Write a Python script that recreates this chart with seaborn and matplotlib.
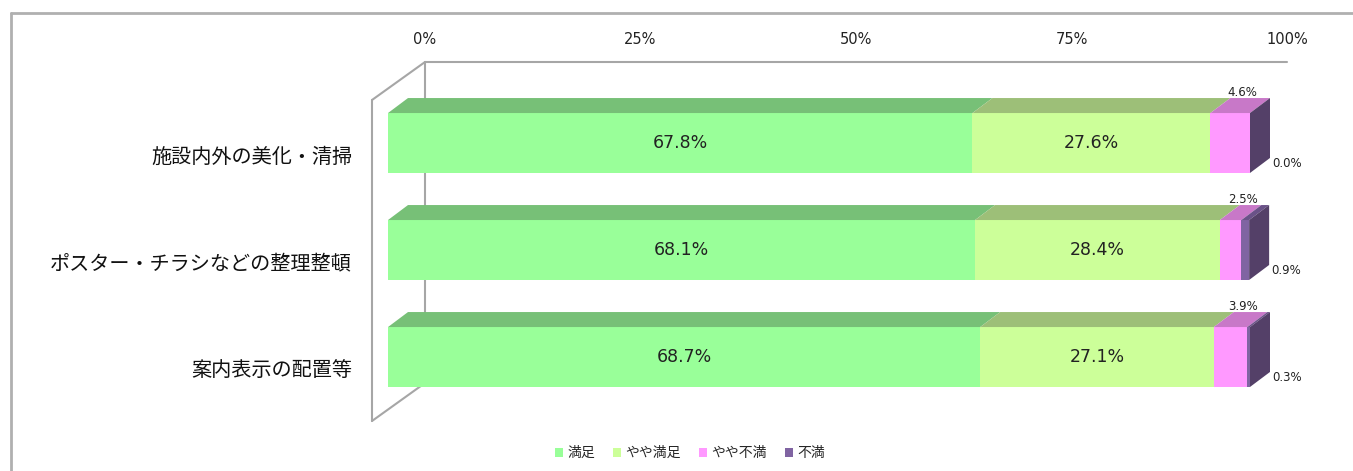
import matplotlib
matplotlib.use("Agg")
import matplotlib.pyplot as plt
import seaborn as sns
import numpy as np
import pandas as pd
from matplotlib.patches import Polygon, Patch

# data
categories = ["施設内外の美化・清掃", "ポスター・チラシなどの整理整頓", "案内表示の配置等"]
series_names = ["満足", "やや満足", "やや不満", "不満"]
satisfied = [67.8, 68.1, 68.7]
somewhat_satisfied = [27.6, 28.4, 27.1]
somewhat_dissatisfied = [4.6, 2.5, 3.9]
dissatisfied = [0.0, 0.9, 0.3]
tick_values = [0, 25, 50, 75, 100]

front_colors = ["#99ff99", "#ccff99", "#ff99ff", "#8064a2"]
top_colors = ["#77c077", "#9dbf78", "#c878c8", "#6a5288"]
side_color = "#544068"
wall_color = "#a6a6a6"
jp_font = ["Noto Sans CJK JP", "DejaVu Sans"]

sns.set_theme(style="white")
plt.rcParams["font.family"] = jp_font

values = np.array([satisfied, somewhat_satisfied, somewhat_dissatisfied, dissatisfied])
cum = np.cumsum(values, axis=0)
df = pd.DataFrame({"category": categories})
for i, name in enumerate(series_names):
    df[name] = cum[i]

W, H = 1353, 471
fig = plt.figure(figsize=(W / 100, H / 100), dpi=100)
ax = fig.add_axes([0, 0, 1, 1])

# pixel mapping: 0% front at px 388, 862 px per 100%; bar pitch 107 px, first bar centre py 143
PX0, PXS, PY0, PYS = 388, 8.62, 143, 107
xlim = (-PX0 / PXS, (W - PX0) / PXS)
ylim = ((H - PY0) / PYS, -PY0 / PYS)

bar_h = 0.56
dx, dy = 20 / PXS, 15 / PYS          # bar depth
wdx, wdy = 53 / PXS, 38 / PYS        # wall depth
wall_x = -16 / PXS                   # front edge of floor / wall

# back wall and floor lines
top_y = (62 - PY0) / PYS
floor_y = (383 - PY0) / PYS
bx = wall_x + wdx
ax.plot([bx, bx + 100], [top_y, top_y], color=wall_color, lw=1.5, zorder=1)
ax.plot([bx, bx], [top_y, floor_y], color=wall_color, lw=1.5, zorder=1)
ax.plot([wall_x, bx], [top_y + wdy, top_y], color=wall_color, lw=1.5, zorder=1)
ax.plot([wall_x, wall_x], [top_y + wdy, floor_y + wdy], color=wall_color, lw=1.5, zorder=1)
ax.plot([wall_x, bx], [floor_y + wdy, floor_y], color=wall_color, lw=1.5, zorder=1)

# front faces: stacked by drawing cumulative totals from the largest down
for i in range(len(series_names) - 1, -1, -1):
    sns.barplot(data=df, x=series_names[i], y="category", color=front_colors[i],
                orient="h", width=bar_h, saturation=1, ax=ax, zorder=2,
                edgecolor="none", linewidth=0)

# top and side faces
for j in range(len(categories)):
    ytop = j - bar_h / 2
    ybot = j + bar_h / 2
    left = 0.0
    for i in range(len(series_names)):
        right = cum[i, j]
        ax.add_patch(Polygon([(left, ytop), (right, ytop), (right + dx, ytop - dy), (left + dx, ytop - dy)],
                             closed=True, facecolor=top_colors[i], edgecolor="none", zorder=2))
        left = right
    end = cum[-1, j]
    ax.add_patch(Polygon([(end, ytop), (end + dx, ytop - dy), (end + dx, ybot - dy), (end, ybot)],
                         closed=True, facecolor=side_color, edgecolor="none", zorder=2))

    # value labels
    for i in range(2):
        mid = cum[i, j] - values[i, j] / 2
        ax.text(mid, j, f"{values[i, j]:.1f}%", ha="center", va="center",
                fontsize=12.5, color="#222222", family="DejaVu Sans", zorder=3)
    pmid = cum[2, j] - values[2, j] / 2 + dx * 0.6
    ax.text(pmid, ytop - dy + 0.01, f"{values[2, j]:.1f}%", ha="center", va="bottom",
            fontsize=8.5, color="#222222", family="DejaVu Sans", zorder=3)
    ax.text(end + dx + 0.3, j + 0.19, f"{values[3, j]:.1f}%", ha="left", va="center",
            fontsize=8.5, color="#222222", family="DejaVu Sans", zorder=3)

    # category labels
    ax.text((352 - PX0) / PXS, j + 14 / PYS, categories[j], ha="right", va="center",
            fontsize=14.5, color="#111111", family=jp_font)

# percentage axis along the back wall
for v in tick_values:
    ax.text(bx + v, (40 - PY0) / PYS, f"{v}%", ha="center", va="center",
            fontsize=10.5, color="#222222", family="DejaVu Sans")

# outer frame
fy = (13 - PY0) / PYS
fx = (11 - PX0) / PXS
ax.plot([fx, xlim[1]], [fy, fy], color="#b0b0b0", lw=2, zorder=1)
ax.plot([fx, fx], [fy, ylim[0]], color="#b0b0b0", lw=2, zorder=1)

ax.set_xlim(*xlim)
ax.set_ylim(*ylim)
ax.set_axis_off()

handles = [Patch(facecolor=c, edgecolor="none", label=n) for c, n in zip(front_colors, series_names)]
fig.legend(handles=handles, loc="center", bbox_to_anchor=(690 / W, 1 - 453 / H), ncol=4,
           frameon=False, handlelength=0.6, handleheight=0.6,
           handletextpad=0.3, columnspacing=1.3, prop={"family": jp_font, "size": 10})

fig.savefig("out.png", dpi=100)
